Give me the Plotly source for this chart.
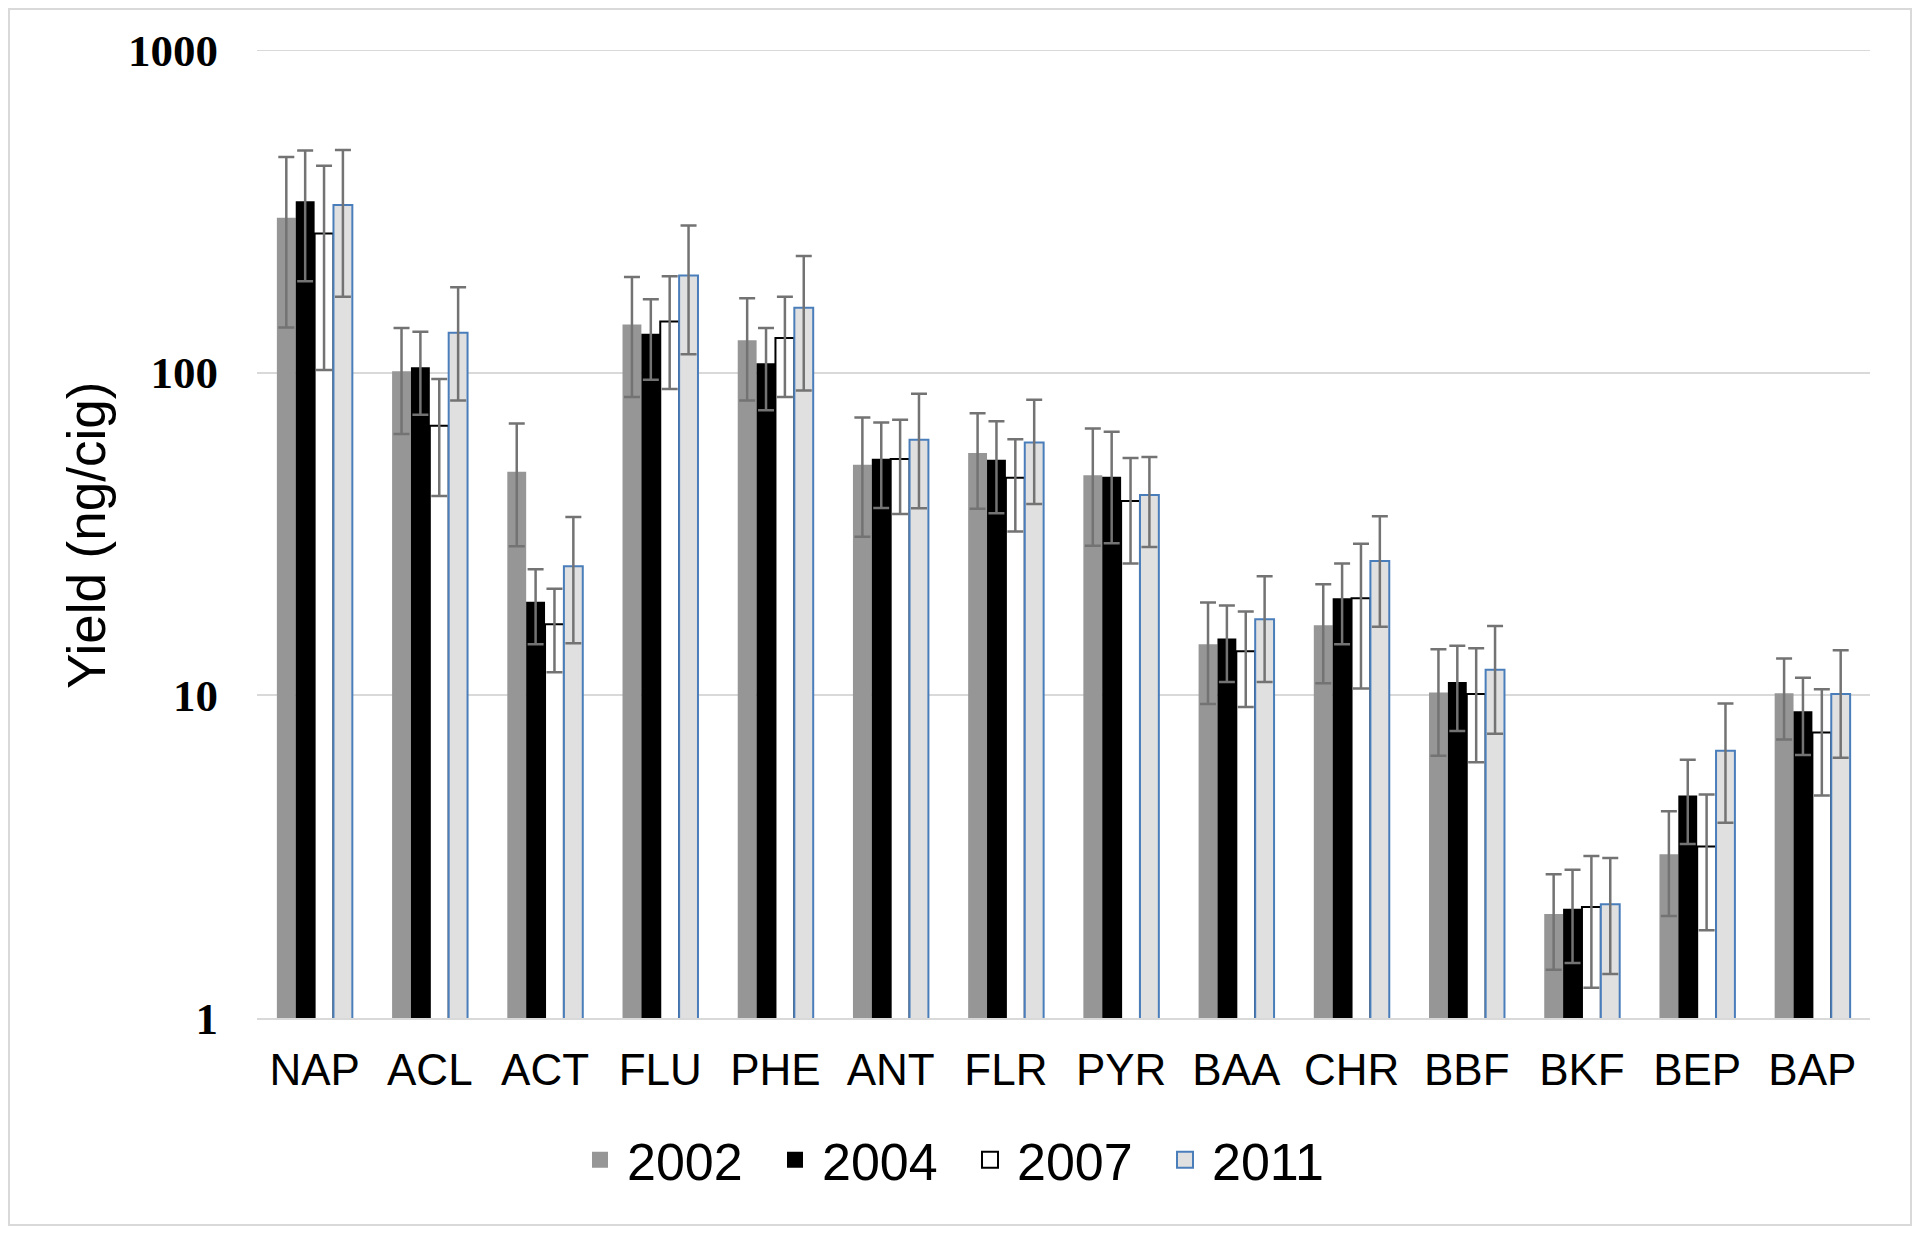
import plotly.graph_objects as go

categories = ["NAP", "ACL", "ACT", "FLU", "PHE", "ANT", "FLR", "PYR", "BAA", "CHR", "BBF", "BKF", "BEP", "BAP"]
years = ["2002", "2004", "2007", "2011"]

y2002 = [302, 101, 49.3, 141, 126, 51.8, 56.4, 48.1, 14.4, 16.5, 10.2, 2.10, 3.22, 10.15]
sd2002 = [164, 36.5, 20.3, 57, 44, 20.8, 18.5, 19, 5.0, 5.6, 3.7, 0.69, 1.15, 2.85]
y2004 = [340, 104, 19.5, 132, 107, 54.1, 53.7, 47.6, 15.0, 20.0, 11.0, 2.18, 4.89, 8.93]
sd2004 = [148, 30, 5.1, 37, 30.5, 16, 17, 18, 4.0, 5.6, 3.25, 0.70, 1.43, 2.4]
y2007 = [270, 68.5, 16.6, 144, 128, 54, 47.2, 40.0, 13.7, 20.0, 10.1, 2.21, 3.40, 7.67]
sd2007 = [168, 27, 4.8, 55, 44, 17.5, 15, 14.4, 4.5, 9.5, 3.9, 0.97, 1.53, 2.78]
y2011 = [331, 133, 25.1, 200, 159, 62, 60.8, 41.8, 17.2, 26.1, 12.0, 2.25, 6.73, 10.1]
sd2011 = [159, 51, 10.6, 86, 71, 24, 21.6, 13, 6.2, 9.8, 4.4, 0.88, 2.7, 3.7]

y_ticks = [1, 10, 100, 1000]

values = [y2002, y2004, y2007, y2011]
sds = [sd2002, sd2004, sd2007, sd2011]
fills = ["#969696", "#000000", "#ffffff", "#e0e0e0"]
lines = ["#969696", "#000000", "#000000", "#4a7ebb"]
line_w = [0, 0, 2, 2]

# page body has an 8px margin; figure is laid out in its own coordinates
OFF = 8
W, H = 1904, 1218
ML, MR, MT, MB = 249, 42, 42, 208
PW, PH = W - ML - MR, H - MT - MB

fig = go.Figure()
for yr, v, s, fc, lc, lw in zip(years, values, sds, fills, lines, line_w):
    fig.add_trace(go.Bar(
        x=categories, y=v, name=yr, showlegend=False,
        marker=dict(color=fc, line=dict(color=lc, width=lw)),
        error_y=dict(type="data", array=s, visible=True, color="#737373",
                     thickness=2.5, width=8),
    ))
# legend entries
for yr, fc, lc, lw in zip(years, fills, lines, [0, 0, 2, 2]):
    fig.add_trace(go.Scatter(
        x=[None], y=[None], mode="markers", name=yr,
        marker=dict(symbol="square", size=16, color=fc, line=dict(color=lc, width=lw)),
    ))

def px_x(page_px):
    return (page_px - OFF - ML) / PW

def px_y(page_py):
    return (H - MB - (page_py - OFF)) / PH

fig.update_layout(
    width=W, height=H,
    margin=dict(l=ML, r=MR, t=MT, b=MB, autoexpand=False),
    paper_bgcolor="white", plot_bgcolor="white",
    barmode="group", bargap=0.345, bargroupgap=0,
    font=dict(family="Liberation Sans, Arial, sans-serif", color="black"),
    xaxis=dict(
        type="category", showgrid=False, showline=True, linecolor="#d9d9d9", linewidth=2,
        ticks="", tickfont=dict(size=44, family="Liberation Sans, Arial, sans-serif"),
        ticklabelstandoff=12, automargin=False,
    ),
    yaxis=dict(
        type="log", range=[0, 3], tickvals=y_ticks, ticktext=[str(t) for t in y_ticks],
        showgrid=True, gridcolor="#d9d9d9", gridwidth=2, zeroline=False, showline=False,
        ticks="", tickfont=dict(size=45, family="Liberation Serif, Times New Roman, serif",
                                weight="bold"),
        ticklabelstandoff=38, automargin=False,
    ),
    legend=dict(
        orientation="h", x=px_x(963), xanchor="center", y=px_y(1160), yanchor="middle",
        font=dict(size=52, family="Liberation Sans, Arial, sans-serif"),
        itemwidth=44, entrywidth=136, entrywidthmode="pixels", itemsizing="trace",
        bgcolor="rgba(0,0,0,0)",
    ),
    annotations=[dict(
        text="Yield (ng/cig)", textangle=-90, showarrow=False,
        xref="paper", yref="paper", x=px_x(86), y=px_y(536),
        xanchor="center", yanchor="middle",
        font=dict(size=53, family="Liberation Sans, Arial, sans-serif", color="black"),
    )],
    shapes=[
        dict(type="rect", xref="paper", yref="paper",
             x0=px_x(9), x1=px_x(1911), y0=px_y(1225), y1=px_y(9),
             line=dict(color="#d9d9d9", width=2), fillcolor="rgba(0,0,0,0)", layer="below"),
        dict(type="line", xref="paper", yref="y", x0=0, x1=1,
             y0=y_ticks[-1], y1=y_ticks[-1],
             line=dict(color="#d9d9d9", width=2), layer="below"),
    ],
)

fig.write_html("out.html")
